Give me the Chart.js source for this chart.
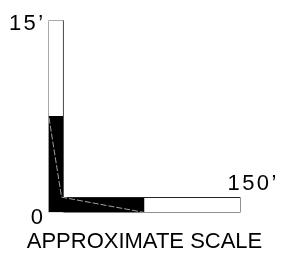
<!DOCTYPE html>
<html>
<head>
<meta charset="utf-8">
<script src="https://cdn.jsdelivr.net/npm/chart.js@4/dist/chart.umd.min.js"></script>
<style>
  html, body { margin: 0; padding: 0; background: #fff; }
  canvas { display: block; }
</style>
</head>
<body>
<canvas id="scale" width="304" height="253"></canvas>
<script>
// scale bar data (feet)
const horizBreaks = [0, 75, 150];     // horizontal bar: black 0-75, white 75-150
const vertBreaks  = [0, 7.5, 15];     // vertical bar: black 0-7.5, white 7.5-15
const barWidthX   = 11.7;             // vertical bar width, in horizontal feet
const barHeightY  = 1.17;             // horizontal bar thickness, in vertical feet
const hatchLine   = [[0.4, 7.4], [10.2, 1.2], [75, 0]];
const tickLabels  = ['0', '15\u2019', '150\u2019'];
const caption     = 'APPROXIMATE SCALE';

const pts = arr => arr.map(p => ({ x: p[0], y: p[1] }));
const FONT = '22px "Liberation Sans", Arial, sans-serif';

const lineBase = { showLine: true, pointRadius: 0, tension: 0, fill: false };

const labelsPlugin = {
    id: 'scaleLabels',
    afterDraw(chart) {
        const { ctx, scales: { x, y } } = chart;
        ctx.save();
        ctx.fillStyle = '#000';
        ctx.font = FONT;
        ctx.textBaseline = 'alphabetic';
        ctx.letterSpacing = '2.4px';
        ctx.textAlign = 'right';
        ctx.fillText(tickLabels[1], x.getPixelForValue(0) - 3, y.getPixelForValue(vertBreaks[2]) + 9);
        ctx.fillText(tickLabels[0], x.getPixelForValue(0) - 3, y.getPixelForValue(0) + 11);
        ctx.textAlign = 'left';
        ctx.fillText(tickLabels[2], x.getPixelForValue(horizBreaks[2]) - 13, y.getPixelForValue(barHeightY) - 8);
        ctx.letterSpacing = '0px';
        ctx.textAlign = 'center';
        ctx.fillText(caption, 144.5, 248);
        ctx.restore();
    }
};

new Chart(document.getElementById('scale'), {
    type: 'scatter',
    data: {
        datasets: [
            // grey hatch boundary (top)
            { ...lineBase, data: pts(hatchLine), borderColor: '#a0a0a0', borderWidth: 1, borderDash: [6, 2] },
            // outlines
            { ...lineBase, data: pts([[0, 0], [0, vertBreaks[2]], [barWidthX, vertBreaks[2]], [barWidthX, barHeightY]]),
              borderColor: '#555', borderWidth: 1 },
            { ...lineBase, data: pts([[barWidthX, 0], [horizBreaks[2], 0], [horizBreaks[2], barHeightY], [barWidthX, barHeightY]]),
              borderColor: '#222', borderWidth: 1 },
            // black halves (vertical runs down to the corner, horizontal tucks slightly under it)
            { ...lineBase, data: pts([[0, vertBreaks[1]], [barWidthX, vertBreaks[1]]]),
              borderColor: '#000', borderWidth: 1, fill: 'origin', backgroundColor: '#000' },
            { ...lineBase, data: pts([[barWidthX - 1, barHeightY], [horizBreaks[1], barHeightY]]),
              borderColor: '#000', borderWidth: 1, fill: 'origin', backgroundColor: '#000' }
        ]
    },
    options: {
        responsive: false,
        animation: false,
        layout: { padding: { left: 48.5, right: 63.5, top: 20.5, bottom: 40.5 } },
        plugins: { legend: { display: false }, tooltip: { enabled: false } },
        scales: {
            x: { type: 'linear', min: 0, max: 150, display: false },
            y: { type: 'linear', min: 0, max: 15, display: false }
        }
    },
    plugins: [labelsPlugin]
});
</script>
</body>
</html>
